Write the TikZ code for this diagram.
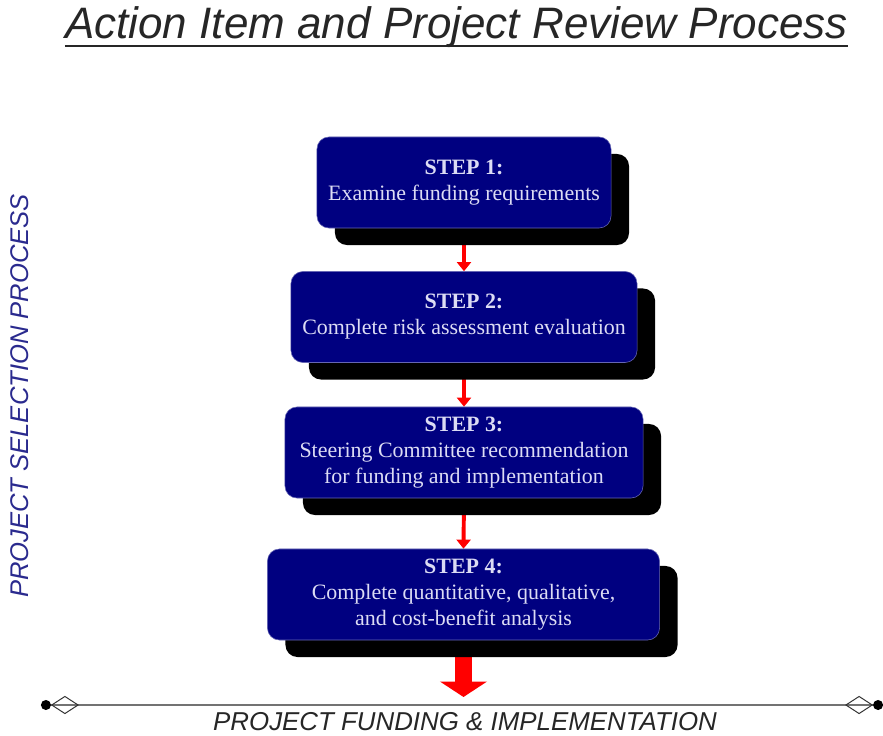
\documentclass[tikz,border=0pt]{standalone}
\usepackage{fontspec}
\setmainfont{Liberation Serif}
\newfontfamily\headfont{Liberation Sans}
\usepackage{tikz}
\usetikzlibrary{arrows.meta,shapes,positioning,shadows,backgrounds}
\definecolor{boxblue}{HTML}{000080}
\definecolor{boxtext}{HTML}{DCDCF4}
\definecolor{sidetext}{HTML}{2A2A8E}

\begin{document}
\begin{tikzpicture}[x=0.025cm, y=-0.025cm,
    stepbox/.style={rectangle, rounded corners=0.3cm, fill=boxblue, draw=boxblue!60!white, line width=0.4pt,
        text=boxtext, align=center, minimum height=2.275cm, font=\fontsize{15.6}{18.5}\selectfont,
        drop shadow={shadow xshift=0.45cm, shadow yshift=-0.425cm, fill=black, opacity=1}},
    steparrow/.style={draw=red, line width=2.8pt, -{Triangle[width=10pt,length=6.5pt]}},
    bigarrow/.style={draw=red, line width=11.4pt, -{Triangle[width=33pt,length=11pt]}},
    captext/.style={font=\headfont\itshape, text=black!85, inner sep=0pt}]
\useasboundingbox (0,0) rectangle (883,736);

\node[captext, anchor=base, font=\headfont\itshape\fontsize{31.3}{36}\selectfont] (title) at (456.5,39) {Action Item and Project Review Process};
\draw[black!85, line width=1.5pt] ([yshift=-5pt]title.base west) -- ([yshift=-5pt]title.base east);

\node[captext, text=sidetext, rotate=90, font=\headfont\itshape\fontsize{18.2}{20}\selectfont] (select) at (20,396) {PROJECT SELECTION PROCESS};

\node[stepbox, minimum width=7.35cm] (step1) at (464,182.5) {\textbf{STEP 1:}\\Examine funding requirements};
\node[stepbox, minimum width=8.65cm] (step2) at (464,317) {\textbf{STEP 2:}\\Complete risk assessment evaluation};
\node[stepbox, minimum width=8.95cm] (step3) at (464,452.5) {\textbf{STEP 3:}\\Steering Committee recommendation\\for funding and implementation};
\node[stepbox, minimum width=9.8cm] (step4) at (463.5,594.5) {\textbf{STEP 4:}\\Complete quantitative, qualitative,\\and cost-benefit analysis};

\coordinate (fundtip) at (463.5,697);
\coordinate (lineL) at (41,705);
\coordinate (lineR) at (883,705);

\begin{scope}[on background layer]
\draw[steparrow] (step1.south) -- (step2.north);
\draw[steparrow] (step2.south) -- (step3.north);
\draw[steparrow] (step3.south) -- (step4.north);
\draw[bigarrow] (step4.south) -- (fundtip);
\end{scope}

\draw[black!55, line width=1.8pt,
    {Circle[length=7pt,color=black]Diamond[open,length=20pt,width=13pt,line width=0.7pt,color=black!80]}-{Diamond[open,length=20pt,width=13pt,line width=0.7pt,color=black!80]Circle[length=7pt,color=black]}]
    (lineL) -- (lineR);

\node[captext, font=\headfont\itshape\fontsize{18.4}{20}\selectfont] (funding) at (465,722) {PROJECT FUNDING \& IMPLEMENTATION};
\end{tikzpicture}
\end{document}
